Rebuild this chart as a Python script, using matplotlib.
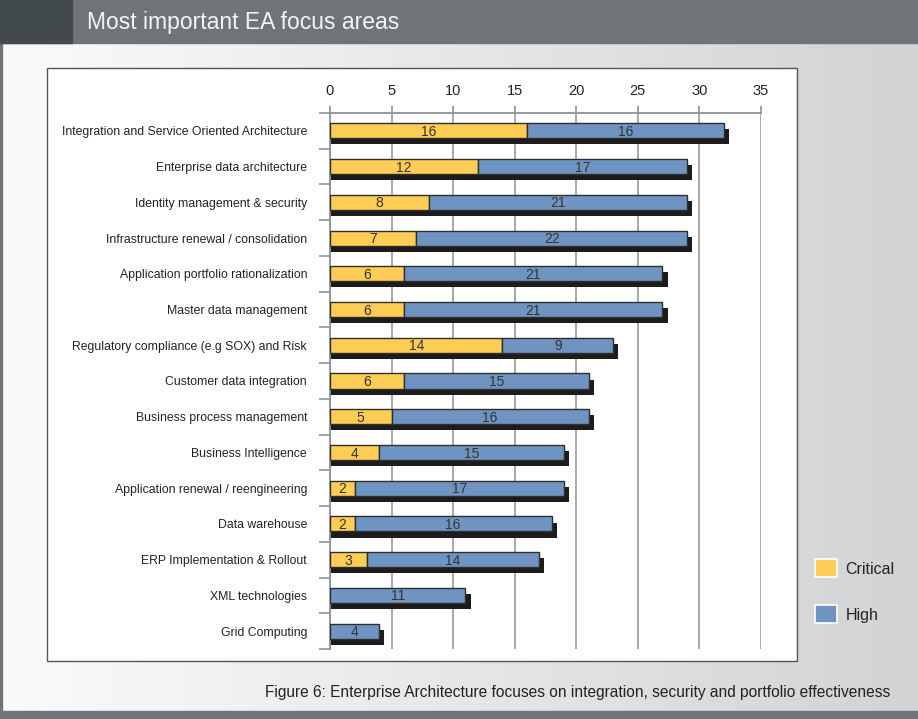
import matplotlib
matplotlib.use("Agg")
import matplotlib.pyplot as plt
from matplotlib.patches import Rectangle, Patch
from matplotlib.colors import LinearSegmentedColormap
import numpy as np

plt.rcParams['font.family'] = ['Liberation Sans', 'DejaVu Sans']

areas = [
    "Integration and Service Oriented Architecture",
    "Enterprise data architecture",
    "Identity management & security",
    "Infrastructure renewal / consolidation",
    "Application portfolio rationalization",
    "Master data management",
    "Regulatory compliance (e.g SOX) and Risk",
    "Customer data integration",
    "Business process management",
    "Business Intelligence",
    "Application renewal / reengineering",
    "Data warehouse",
    "ERP Implementation & Rollout",
    "XML technologies",
    "Grid Computing",
]
critical = [16, 12, 8, 7, 6, 6, 14, 6, 5, 4, 2, 2, 3, 0, 0]
high = [16, 17, 21, 22, 21, 21, 9, 15, 16, 15, 17, 16, 14, 11, 4]
x_ticks = [0, 5, 10, 15, 20, 25, 30, 35]

W, H = 918, 719
YELLOW = '#fecd55'
BLUE = '#7094c2'
GRID = '#8d9297'

fig = plt.figure(figsize=(W / 100, H / 100), dpi=100)


def px(x0, y0, x1, y1):
    # pixel box (top-left origin) -> figure fraction rect
    return (x0 / W, 1 - y1 / H, (x1 - x0) / W, (y1 - y0) / H)


def box(x0, y0, x1, y1, **kw):
    x, y, w, h = px(x0, y0, x1, y1)
    fig.add_artist(Rectangle((x, y), w, h, transform=fig.transFigure, **kw))


# page background: soft horizontal gradient
bg = fig.add_axes([0, 0, 1, 1], zorder=-10)
grad = np.linspace(0, 1, 256)[None, :]
cmap = LinearSegmentedColormap.from_list('bg', ['#fbfbfb', '#e6e7e8', '#d2d3d5'])
bg.imshow(grad, aspect='auto', cmap=cmap, extent=[0, 1, 0, 1])
bg.set_axis_off()

# header band, footer band, left edge
box(0, 0, W, 43, color='#6f7479', zorder=1)
box(0, 0, 72, 43, color='#434a4c', zorder=2)
box(0, 711, W, H, color='#6f7479', zorder=1)
box(0, 43, 2, 711, color='#6f7479', zorder=1)
fig.text(87 / W, 1 - 23 / H, "Most important EA focus areas", color='#f4f4f4',
         fontsize=16.5, va='center', ha='left', zorder=3)

# white chart panel
box(47, 68, 797, 661, facecolor='white', edgecolor='#555555', lw=1.0, zorder=1)

ax = fig.add_axes(px(330, 113, 761, 649), zorder=5)
ax.set_facecolor('none')

n = len(areas)
pos = np.arange(n) + 0.5
bh = 0.42
totals = np.array(critical) + np.array(high)

# drop shadows
ax.barh(pos + 0.17, totals + 0.41, height=bh, color='#1d1b1b', zorder=2)
ax.barh(pos, critical, height=bh, color=YELLOW, edgecolor='#2e2e2e', lw=1, zorder=3)
ax.barh(pos, high, left=critical, height=bh, color=BLUE, edgecolor='#2e2e2e', lw=1, zorder=3)

for i in range(n):
    if critical[i]:
        ax.text(critical[i] / 2, pos[i] + 0.03, str(critical[i]), ha='center', va='center',
                fontsize=10, color='#333333', zorder=4)
    ax.text(critical[i] + high[i] / 2, pos[i] + 0.03, str(high[i]), ha='center', va='center',
            fontsize=10, color='#333333', zorder=4)

ax.set_xlim(0, 35)
ax.set_ylim(n, 0)
ax.set_xticks(x_ticks)
ax.xaxis.tick_top()
ax.tick_params(axis='x', direction='out', length=5, width=1.2, color=GRID,
               labelsize=10.5, labelcolor='#222222', pad=6)
ax.set_yticks(pos)
ax.set_yticklabels(areas, fontsize=8.8, color='#222222')
ax.set_yticks(np.arange(n + 1), minor=True)
ax.tick_params(axis='y', which='major', length=0, pad=16.5)
ax.tick_params(axis='y', which='minor', direction='out', length=8, width=1.2, color=GRID)
ax.grid(axis='x', color=GRID, lw=1.1, zorder=0)
ax.set_axisbelow(True)
for side in ['right', 'bottom']:
    ax.spines[side].set_visible(False)
for side in ['top', 'left']:
    ax.spines[side].set_color(GRID)
    ax.spines[side].set_linewidth(1.3)

handles = [Patch(facecolor=YELLOW, edgecolor='white', lw=1.2, label='Critical'),
           Patch(facecolor=BLUE, edgecolor='white', lw=1.2, label='High')]
fig.legend(handles=handles, loc='upper left', bbox_to_anchor=(801 / W, 1 - 545 / H),
           frameon=False, fontsize=11.5, handlelength=1.35, handleheight=1.35,
           labelspacing=1.75, handletextpad=0.55, labelcolor='#222222')

fig.text(890 / W, 1 - 692 / H,
         "Figure 6: Enterprise Architecture focuses on integration, security and portfolio effectiveness",
         ha='right', va='center', fontsize=11.2, color='#222222')

fig.savefig('out.png', dpi=100)
